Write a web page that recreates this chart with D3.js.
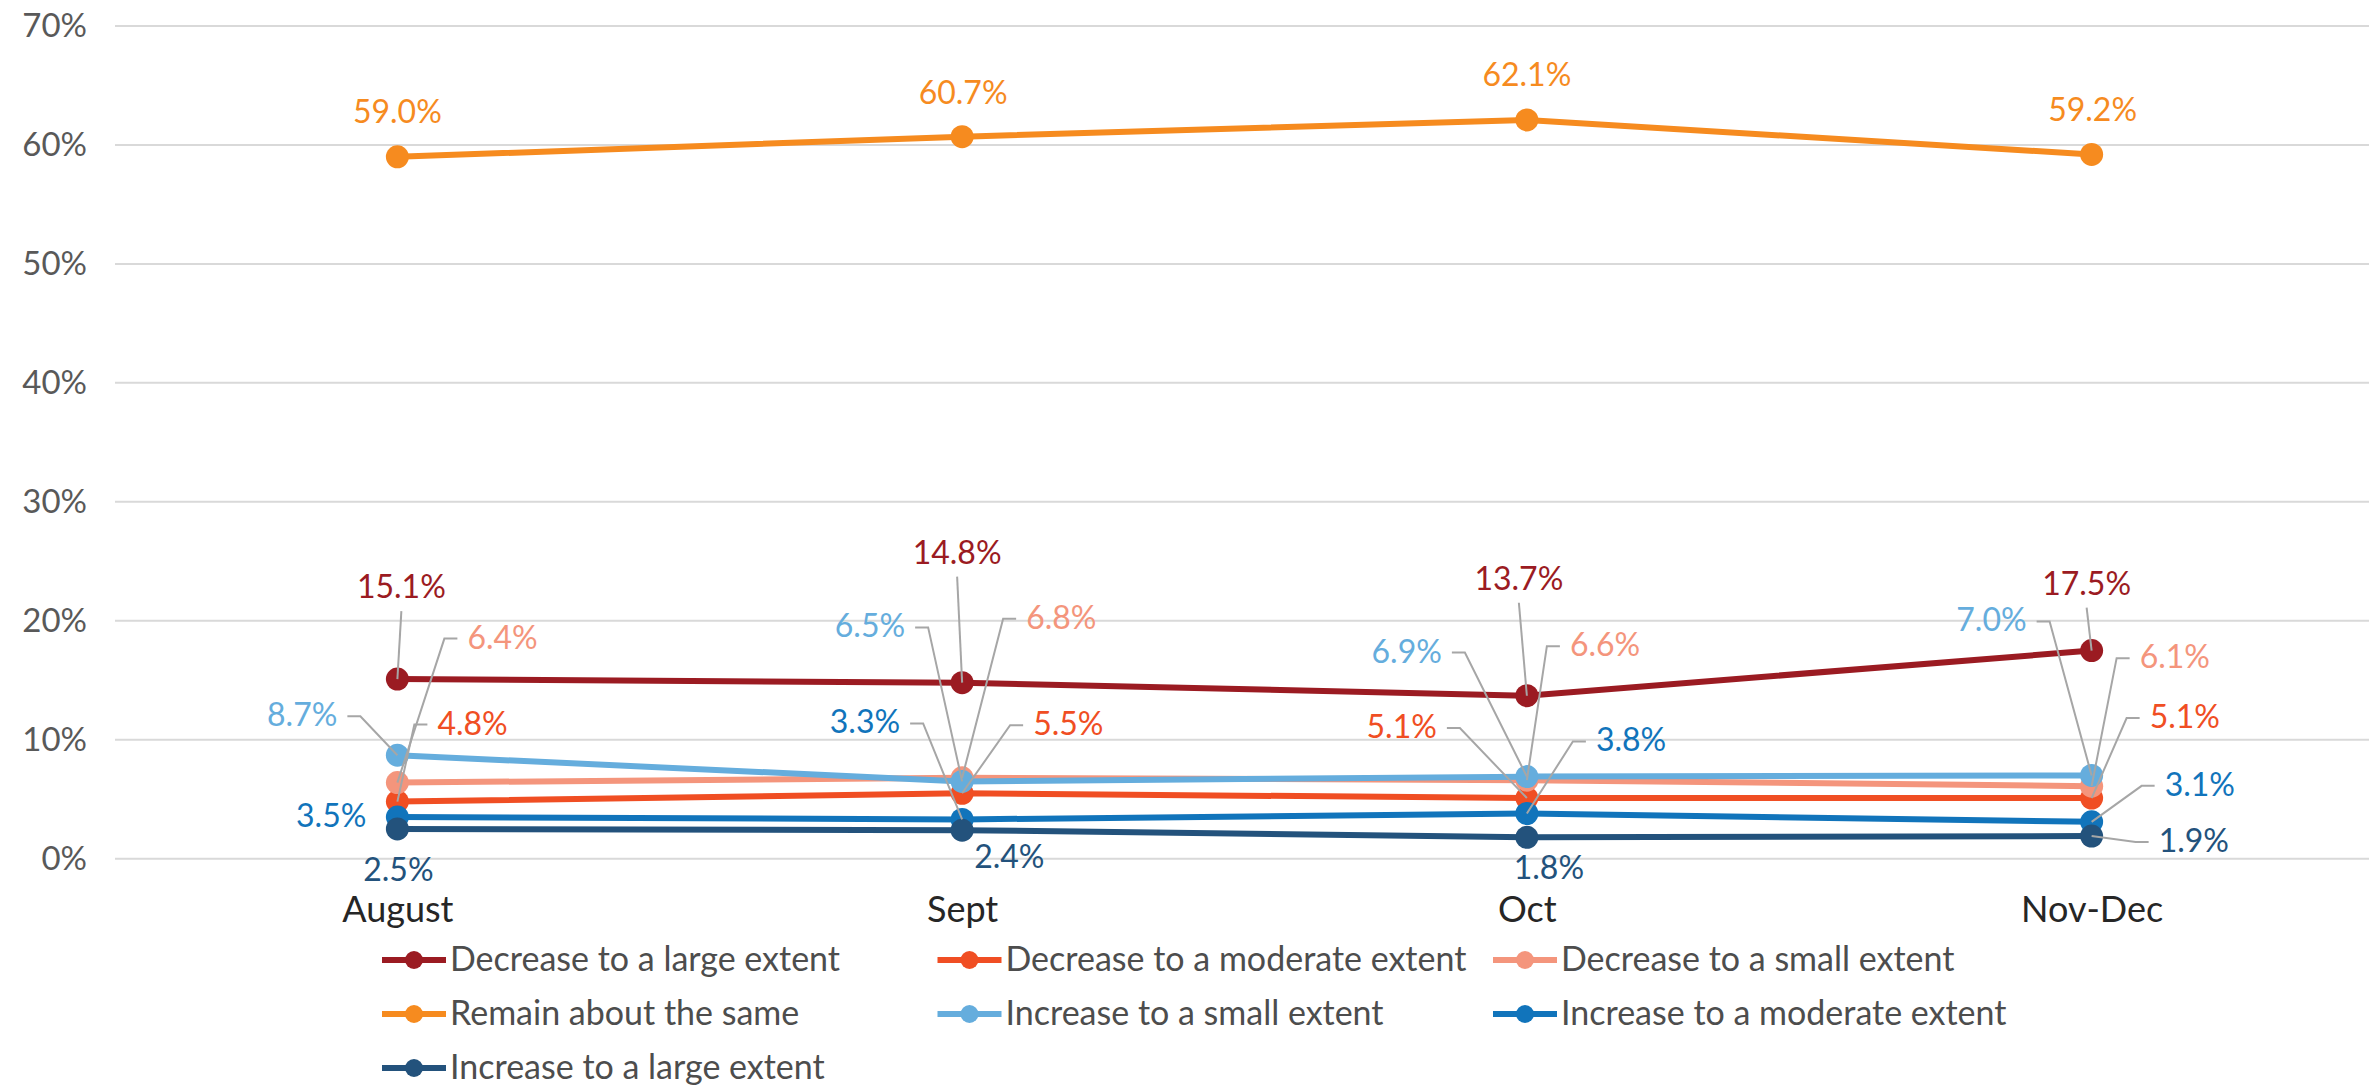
<!DOCTYPE html>
<html>
<head>
<meta charset="utf-8">
<title>Expected change</title>
<script src="https://cdn.jsdelivr.net/npm/d3@7/dist/d3.min.js"></script>
<style>
    body { margin: 0; background: #ffffff; }
    text { font-family: Lato, "Open Sans", sans-serif; }
</style>
</head>
<body>
<script>
(function(){

//chart data
var categories = ["August", "Sept", "Oct", "Nov-Dec"];
var seriesNames = ["Decrease to a large extent", "Decrease to a moderate extent", "Decrease to a small extent",
    "Remain about the same", "Increase to a small extent", "Increase to a moderate extent", "Increase to a large extent"];
var decreaseLarge = [15.1, 14.8, 13.7, 17.5];
var decreaseModerate = [4.8, 5.5, 5.1, 5.1];
var decreaseSmall = [6.4, 6.8, 6.6, 6.1];
var remainSame = [59.0, 60.7, 62.1, 59.2];
var increaseSmall = [8.7, 6.5, 6.9, 7.0];
var increaseModerate = [3.5, 3.3, 3.8, 3.1];
var increaseLarge = [2.5, 2.4, 1.8, 1.9];
var yTicks = [0, 10, 20, 30, 40, 50, 60, 70];

var seriesValues = [decreaseLarge, decreaseModerate, decreaseSmall, remainSame, increaseSmall, increaseModerate, increaseLarge];
var colors = ["#9b1b22", "#f04e23", "#f4957c", "#f68b1f", "#65addd", "#1174bb", "#23527c"];

//label placement, offset from each point: [anchor, dx, dy, leader?]
var labelLayout = [
    [["middle", 4, -81, true], ["middle", -5, -119, true], ["middle", -8, -106, true], ["middle", -5, -56, true]],
    [["start", 40, -67, true], ["start", 71, -58, true], ["end", -90, -60, true], ["start", 58, -70, true]],
    [["start", 70, -134, true], ["start", 64, -149, true], ["start", 43, -124, true], ["start", 48, -118, true]],
    [["middle", 0, -34, false], ["middle", 1, -33, false], ["middle", 0, -34, false], ["middle", 1, -33, false]],
    [["end", -60, -29, true], ["end", -57, -144, true], ["end", -85, -114, true], ["end", -65, -144, true]],
    [["end", -31, 10, false], ["end", -62, -86, true], ["start", 69, -62, true], ["start", 73, -26, true]],
    [["middle", 1, 52, false], ["start", 12, 38, false], ["middle", 22, 42, false], ["start", 67, 16, true]]
];

window.onload = setChart();

function setChart(){
    var width = 2369,
        height = 1089,
        plotLeft = 115,
        plotRight = 2374,
        plotTop = 26,
        plotBottom = 858.7;

    var svg = d3.select("body")
        .append("svg")
        .attr("width", width)
        .attr("height", height);

    //scales
    var x = d3.scalePoint()
        .domain(categories)
        .range([plotLeft, plotRight])
        .padding(0.5);

    var y = d3.scaleLinear()
        .domain([0, 70])
        .range([plotBottom, plotTop]);

    //gridlines
    svg.append("g")
        .selectAll("line")
        .data(yTicks)
        .enter()
        .append("line")
        .attr("x1", plotLeft)
        .attr("x2", width)
        .attr("y1", function(d){ return y(d); })
        .attr("y2", function(d){ return y(d); })
        .attr("stroke", "#d9d9d9")
        .attr("stroke-width", 2);

    //y axis labels
    var yAxis = d3.axisLeft(y)
        .tickValues(yTicks)
        .tickSize(0)
        .tickPadding(0)
        .tickFormat(function(d){ return d + "%"; });

    var yG = svg.append("g")
        .attr("transform", "translate(87,0)")
        .call(yAxis);
    yG.select(".domain").remove();
    yG.selectAll("text")
        .attr("fill", "#595959")
        .style("font-size", "33px")
        .style("font-family", "Lato, sans-serif");

    //x axis labels
    var xAxis = d3.axisBottom(x)
        .tickSize(0)
        .tickPadding(0);

    var xG = svg.append("g")
        .attr("transform", "translate(0,896)")
        .call(xAxis);
    xG.select(".domain").remove();
    xG.selectAll("text")
        .attr("fill", "#262626")
        .style("font-size", "36px")
        .style("font-family", "Lato, sans-serif");

    var line = d3.line()
        .x(function(d, i){ return x(categories[i]); })
        .y(function(d){ return y(d); });

    //lines and markers
    seriesValues.forEach(function(vals, s){
        var g = svg.append("g");
        g.append("path")
            .datum(vals)
            .attr("d", line)
            .attr("fill", "none")
            .attr("stroke", colors[s])
            .attr("stroke-width", 6);
        g.selectAll("circle")
            .data(vals)
            .enter()
            .append("circle")
            .attr("cx", function(d, i){ return x(categories[i]); })
            .attr("cy", function(d){ return y(d); })
            .attr("r", 11.5)
            .attr("fill", colors[s]);
    });

    //leader lines and data labels
    var leaders = svg.append("g");
    var labels = svg.append("g");
    seriesValues.forEach(function(vals, s){
        vals.forEach(function(v, i){
            var px = x(categories[i]),
                py = y(v),
                lay = labelLayout[s][i],
                lx = px + lay[1],
                ly = py + lay[2];

            if (lay[3]){
                var pts;
                if (lay[0] == "middle"){
                    pts = [[lx, ly + 13], [px, py]];
                } else if (lay[0] == "start"){
                    pts = [[lx - 10, ly - 10], [lx - 23, ly - 10], [px, py]];
                } else {
                    pts = [[lx + 10, ly - 10], [lx + 23, ly - 10], [px, py]];
                };
                leaders.append("path")
                    .attr("d", d3.line()(pts))
                    .attr("fill", "none")
                    .attr("stroke", "#a6a6a6")
                    .attr("stroke-width", 2);
            };

            labels.append("text")
                .attr("x", lx)
                .attr("y", ly)
                .attr("text-anchor", lay[0])
                .attr("fill", colors[s])
                .style("font-size", "32px")
                .text(v.toFixed(1) + "%");
        });
    });

    //legend
    var legend = svg.append("g");
    seriesNames.forEach(function(name, s){
        var col = s % 3,
            row = Math.floor(s / 3),
            lx = 382 + col * 555.5,
            ly = 960 + row * 54;
        var item = legend.append("g")
            .attr("transform", "translate(" + lx + "," + ly + ")");
        item.append("line")
            .attr("x1", 0)
            .attr("x2", 64)
            .attr("stroke", colors[s])
            .attr("stroke-width", 6);
        item.append("circle")
            .attr("cx", 32)
            .attr("r", 9)
            .attr("fill", colors[s]);
        item.append("text")
            .attr("x", 68)
            .attr("y", 11)
            .attr("fill", "#4d4d4d")
            .style("font-size", "34px")
            .text(name);
    });
};

})();
</script>
</body>
</html>
